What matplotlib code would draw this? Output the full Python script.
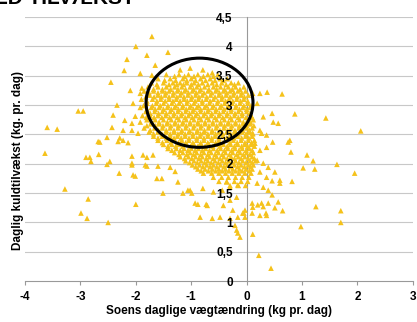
import matplotlib
matplotlib.use("Agg")
import matplotlib.pyplot as plt
from matplotlib.patches import Ellipse

# scattered points (x = kg/day sow weight change, y = litter gain)
outer_x = [-1.71, -2.0, -1.42, -2.16, -2.21, -2.45, -2.1, -1.92, -2.34, -3.04, -2.95, -3.6, -3.42,
           -2.41, -2.2, -2.43, -2.23, -2.07, -2.01, -2.65, -2.52, -2.29, -1.96,
           -3.64, -2.9, -2.83, -2.81, -2.67, -2.52, -2.47, -2.3, -2.07, -2.07, -2.01, -1.8, -1.8,
           -3.28, -2.86, -2.99, -2.88, -2.5, -2.0, -2.68, -2.32, -2.14,
           -1.8, -1.65, -1.2, -1.02, -0.79, -0.62, -1.92, -1.71, -1.89, -2.05, -2.07, -1.92, -2.23,
           0.37, 0.64, 0.87, 1.43, 2.06, 0.78, 0.8, 1.09, 1.2, 1.63, 1.02, 1.23, 1.95, 0.57, 0.47,
           0.82, 0.6, 0.46, 0.57, 0.51, 0.65, 1.25, 1.7, 1.7, 0.98, 0.11, 0.22, 0.44, 0.1, 0.2, 0.3,
           0.24, 0.35, -0.05, -0.03, 0.11, 0.24, 0.3, 0.46, 0.48, 0.11, 0.24, 0.19, 0.27, 0.36,
           0.15, 0.24, 0.36, 0.75, 0.19, 0.3, 0.39, 0.24, 0.36, 0.46, 0.19, 0.3, 0.39, 0.51, 0.6,
           0.39, 0.27, 0.11, 0.36, 0.1,
           -0.16, -0.12, -0.18, -0.25, -0.16, -0.07, -0.48, -0.84, -0.62, -0.93, -0.71, -0.42,
           -0.3, -0.18, -1.02, -0.79, -0.6, -0.44, -0.3, -0.16,
           -1.62, -1.53, -1.51, -1.24, -1.15, -1.06, -0.99, -0.88, -0.73, -0.3, -0.21, -2.05,
           -2.07, -1.83, -1.6, -1.38, -1.29, -1.87, -1.69, -0.36, -0.03]
outer_y = [4.17, 4.0, 3.9, 3.78, 3.59, 3.39, 3.25, 3.2, 3.0, 2.9, 2.9, 2.62, 2.59,
           2.83, 2.74, 2.62, 2.57, 2.57, 2.81, 2.37, 2.45, 2.44, 2.52,
           2.18, 2.11, 2.11, 2.04, 2.16, 1.99, 2.04, 1.84, 2.13, 1.98, 1.79, 2.11, 1.96,
           1.57, 1.4, 1.16, 1.07, 1.0, 1.31, 2.38, 2.38, 2.36,
           3.85, 3.68, 3.6, 3.63, 3.6, 3.55, 3.54, 3.51, 3.29, 3.03, 2.69, 2.71, 2.4,
           3.22, 3.19, 2.85, 2.78, 2.56, 2.4, 2.2, 2.15, 2.05, 1.99, 1.93, 1.91, 1.84, 2.69, 2.37,
           1.7, 1.67, 1.47, 1.35, 1.25, 1.2, 1.27, 1.2, 1.0, 0.93, 0.8, 0.44, 0.22, 1.33, 1.3, 1.27,
           1.12, 1.16, 1.16, 1.09, 3.2, 3.2, 2.8, 2.86, 2.71, 2.52, 2.57, 3.03, 2.52, 2.49,
           2.35, 2.23, 2.28, 2.37, 2.06, 2.01, 1.94, 1.86, 1.77, 1.71, 1.67, 1.6, 1.55, 1.86, 1.72,
           1.33, 1.33, 1.26, 1.12, 1.16,
           0.82, 0.75, 0.87, 1.21, 1.09, 1.16, 1.09, 1.09, 1.07, 1.33, 1.29, 1.29,
           1.38, 1.43, 1.55, 1.58, 1.52, 1.55, 1.6, 1.64,
           1.75, 1.75, 1.5, 1.69, 1.5, 1.55, 1.5, 1.31, 1.31, 1.07, 0.95, 1.81,
           2.01, 1.98, 1.96, 1.94, 1.87, 2.15, 2.15, 1.69, 1.21]

# dense cluster, row by row (litter gain level, then the sow weight changes in that row)
core_y = [3.52, 3.45, 3.38, 3.31, 3.24, 3.17, 3.10, 3.03, 2.96, 2.89, 2.82, 2.75, 2.68, 2.61,
          2.54, 2.47, 2.40, 2.33, 2.26, 2.19, 2.12, 2.05, 1.98, 1.91, 1.84, 1.77, 1.70, 1.63]
core_x = [
    [-1.45, -1.22, -1.05, -0.88, -0.7, -0.52],
    [-1.6, -1.38, -1.15, -1.0, -0.83, -0.66, -0.48, -0.35],
    [-1.72, -1.5, -1.33, -1.2, -1.08, -0.95, -0.8, -0.62, -0.45, -0.28, -0.15],
    [-1.78, -1.6, -1.45, -1.3, -1.17, -1.02, -0.9, -0.76, -0.6, -0.47, -0.33, -0.2, -0.05],
    [-1.85, -1.68, -1.52, -1.4, -1.25, -1.12, -0.98, -0.85, -0.7, -0.56, -0.42, -0.3, -0.16, -0.02],
    [-1.75, -1.6, -1.47, -1.33, -1.2, -1.06, -0.92, -0.8, -0.65, -0.5, -0.37, -0.24, -0.1, 0.03],
    [-1.9, -1.7, -1.55, -1.4, -1.27, -1.13, -1.0, -0.87, -0.73, -0.6, -0.45, -0.32, -0.18, -0.05],
    [-1.8, -1.63, -1.5, -1.35, -1.22, -1.08, -0.95, -0.8, -0.67, -0.53, -0.4, -0.26, -0.12, 0.02],
    [-1.92, -1.72, -1.58, -1.43, -1.3, -1.16, -1.03, -0.9, -0.76, -0.62, -0.48, -0.35, -0.2, -0.07, 0.06],
    [-1.82, -1.66, -1.52, -1.38, -1.24, -1.1, -0.97, -0.83, -0.7, -0.56, -0.42, -0.28, -0.15, 0.0],
    [-1.88, -1.74, -1.6, -1.46, -1.32, -1.18, -1.05, -0.92, -0.78, -0.64, -0.5, -0.36, -0.22, -0.08, 0.08],
    [-1.8, -1.65, -1.5, -1.36, -1.22, -1.09, -0.95, -0.82, -0.68, -0.54, -0.4, -0.27, -0.13, 0.02, 0.12],
    [-1.73, -1.58, -1.44, -1.3, -1.16, -1.02, -0.88, -0.75, -0.61, -0.47, -0.34, -0.2, -0.06, 0.06],
    [-1.85, -1.66, -1.52, -1.38, -1.24, -1.1, -0.96, -0.83, -0.69, -0.55, -0.41, -0.28, -0.14, 0.0, 0.1],
    [-1.76, -1.6, -1.45, -1.31, -1.18, -1.04, -0.9, -0.77, -0.63, -0.5, -0.36, -0.22, -0.08, 0.05],
    [-1.68, -1.52, -1.38, -1.25, -1.11, -0.97, -0.84, -0.7, -0.57, -0.43, -0.3, -0.16, -0.02, 0.1],
    [-1.6, -1.44, -1.3, -1.17, -1.04, -0.9, -0.77, -0.63, -0.5, -0.37, -0.24, -0.1, 0.03, 0.14],
    [-1.5, -1.35, -1.22, -1.08, -0.95, -0.82, -0.68, -0.55, -0.42, -0.29, -0.16, -0.03, 0.08],
    [-1.42, -1.27, -1.13, -1.0, -0.87, -0.74, -0.6, -0.47, -0.34, -0.21, -0.08, 0.05],
    [-1.3, -1.15, -1.02, -0.9, -0.77, -0.64, -0.51, -0.38, -0.25, -0.12, 0.0, 0.12],
    [-1.2, -1.05, -0.92, -0.8, -0.67, -0.54, -0.41, -0.28, -0.15, -0.03, 0.1],
    [-1.1, -0.95, -0.82, -0.7, -0.57, -0.44, -0.32, -0.2, -0.07, 0.06, 0.16],
    [-0.98, -0.85, -0.72, -0.6, -0.47, -0.35, -0.22, -0.1, 0.03, 0.12],
    [-0.88, -0.75, -0.62, -0.5, -0.38, -0.25, -0.13, -0.01, 0.1],
    [-0.78, -0.63, -0.5, -0.38, -0.26, -0.14, -0.03, 0.08],
    [-0.6, -0.45, -0.33, -0.2, -0.08, 0.04],
    [-0.5, -0.36, -0.22, -0.1, 0.02],
    [-0.3, -0.15, -0.02],
]

# second pass of the dense cluster, between the rows above
core2_y = [3.49, 3.42, 3.35, 3.27, 3.21, 3.14, 3.07, 2.99, 2.93, 2.86, 2.79, 2.71, 2.65, 2.57,
           2.51, 2.44, 2.36, 2.30, 2.23, 2.16, 2.09, 2.02, 1.95, 1.88]
core2_x = [
    [-1.3, -1.12, -0.95, -0.78, -0.6],
    [-1.48, -1.28, -1.08, -0.92, -0.74, -0.57, -0.42],
    [-1.62, -1.4, -1.26, -1.14, -1.0, -0.87, -0.7, -0.54, -0.37, -0.22],
    [-1.68, -1.52, -1.37, -1.24, -1.1, -0.96, -0.83, -0.68, -0.54, -0.4, -0.26, -0.12],
    [-1.76, -1.6, -1.46, -1.32, -1.18, -1.05, -0.91, -0.77, -0.63, -0.49, -0.36, -0.23, -0.09],
    [-1.82, -1.67, -1.54, -1.4, -1.26, -1.13, -0.99, -0.86, -0.72, -0.57, -0.44, -0.3, -0.17, -0.04],
    [-1.8, -1.62, -1.47, -1.33, -1.2, -1.07, -0.93, -0.8, -0.66, -0.52, -0.38, -0.25, -0.11, 0.02],
    [-1.86, -1.7, -1.56, -1.42, -1.28, -1.15, -1.01, -0.87, -0.73, -0.6, -0.46, -0.33, -0.19, -0.05, 0.08],
    [-1.8, -1.65, -1.5, -1.36, -1.23, -1.09, -0.96, -0.83, -0.69, -0.55, -0.41, -0.28, -0.13, 0.0],
    [-1.74, -1.59, -1.45, -1.31, -1.17, -1.03, -0.9, -0.76, -0.63, -0.49, -0.35, -0.21, -0.08, 0.06],
    [-1.81, -1.67, -1.53, -1.39, -1.25, -1.11, -0.98, -0.85, -0.71, -0.57, -0.43, -0.29, -0.15, -0.01, 0.1],
    [-1.72, -1.58, -1.43, -1.29, -1.15, -1.02, -0.88, -0.75, -0.61, -0.47, -0.33, -0.2, -0.06, 0.07],
    [-1.8, -1.65, -1.51, -1.37, -1.23, -1.09, -0.95, -0.82, -0.68, -0.54, -0.4, -0.27, -0.13, 0.0, 0.13],
    [-1.74, -1.59, -1.45, -1.31, -1.17, -1.03, -0.89, -0.76, -0.62, -0.48, -0.34, -0.21, -0.07, 0.05],
    [-1.68, -1.53, -1.38, -1.24, -1.11, -0.97, -0.83, -0.7, -0.56, -0.43, -0.29, -0.15, -0.01, 0.11],
    [-1.6, -1.45, -1.31, -1.18, -1.04, -0.9, -0.77, -0.63, -0.5, -0.36, -0.23, -0.09, 0.04],
    [-1.52, -1.37, -1.23, -1.1, -0.97, -0.83, -0.7, -0.56, -0.43, -0.3, -0.17, -0.03, 0.09],
    [-1.42, -1.28, -1.15, -1.01, -0.88, -0.75, -0.61, -0.48, -0.35, -0.22, -0.09, 0.02, 0.14],
    [-1.35, -1.2, -1.06, -0.93, -0.8, -0.67, -0.53, -0.4, -0.27, -0.14, -0.01, 0.1],
    [-1.22, -1.08, -0.96, -0.83, -0.7, -0.57, -0.44, -0.31, -0.18, -0.06, 0.06],
    [-1.12, -0.99, -0.86, -0.73, -0.6, -0.48, -0.35, -0.22, -0.1, 0.03, 0.14],
    [-1.03, -0.89, -0.76, -0.64, -0.51, -0.38, -0.26, -0.14, -0.01, 0.1],
    [-0.92, -0.79, -0.66, -0.54, -0.41, -0.29, -0.16, -0.04, 0.07],
    [-0.82, -0.69, -0.56, -0.44, -0.32, -0.2, -0.08, 0.05],
]

x_ticks = [-4, -3, -2, -1, 0, 1, 2, 3]
y_ticks = [0.5, 1, 1.5, 2, 2.5, 3, 3.5, 4, 4.5]
y_ticklabels = ["0,5", "1", "1,5", "2", "2,5", "3", "3,5", "4", "4,5"]

xs = list(outer_x)
ys = list(outer_y)
for yv, row in list(zip(core_y, core_x)) + list(zip(core2_y, core2_x)):
    xs += row
    ys += [yv] * len(row)

plt.rcParams['font.family'] = ['Liberation Sans', 'DejaVu Sans']
fig = plt.figure(figsize=(4.17, 3.22), dpi=100)
ax = fig.add_axes([0.06, 0.127, 0.93, 0.82])

for yt in y_ticks:
    ax.axhline(yt, color='#c8c8c8', lw=0.8, zorder=0)

ax.scatter(xs, ys, marker='^', s=16, color='#F5C21B', edgecolors='none', zorder=2)

ax.add_patch(Ellipse((-0.85, 3.04), 1.93, 1.52, fill=False, lw=2.2, ec='black', zorder=3))

ax.set_xlim(-4, 3)
ax.set_ylim(0, 4.5)
ax.spines['left'].set_position(('data', 0))
ax.spines['top'].set_visible(False)
ax.spines['right'].set_visible(False)
ax.spines['left'].set_color('#999999')
ax.spines['bottom'].set_color('#999999')
ax.spines['left'].set_linewidth(0.8)
ax.spines['bottom'].set_linewidth(0.8)
ax.spines['left'].set_zorder(1)

ax.set_xticks(x_ticks)
ax.set_xticklabels([str(v) for v in x_ticks], fontweight='bold', fontsize=8.5)
ax.set_yticks([0] + y_ticks)
ax.set_yticklabels(["0"] + y_ticklabels, fontweight='bold', fontsize=8.5)
ax.tick_params(axis='x', length=3, color='#999999', pad=4)
ax.tick_params(axis='y', length=0, pad=10)
ax.yaxis.set_zorder(5)   # tick labels sit on top of the points, as in the scan

fig.text(0.525, 0.034, "Soens daglige vægtændring (kg pr. dag)", ha='center', va='center',
         fontsize=8.5, fontweight='bold')
fig.text(0.043, 0.5, "Daglig kuldtilvækst (kg. pr. dag)", ha='center', va='center',
         rotation=90, fontsize=8.5, fontweight='bold')
# heading of the page, only its lower edge is inside the scan
fig.text(0.324, 0.988, "KULD TILVÆKST", ha='right', va='baseline', fontsize=15,
         fontweight='bold')

fig.savefig("out.png", dpi=100)
